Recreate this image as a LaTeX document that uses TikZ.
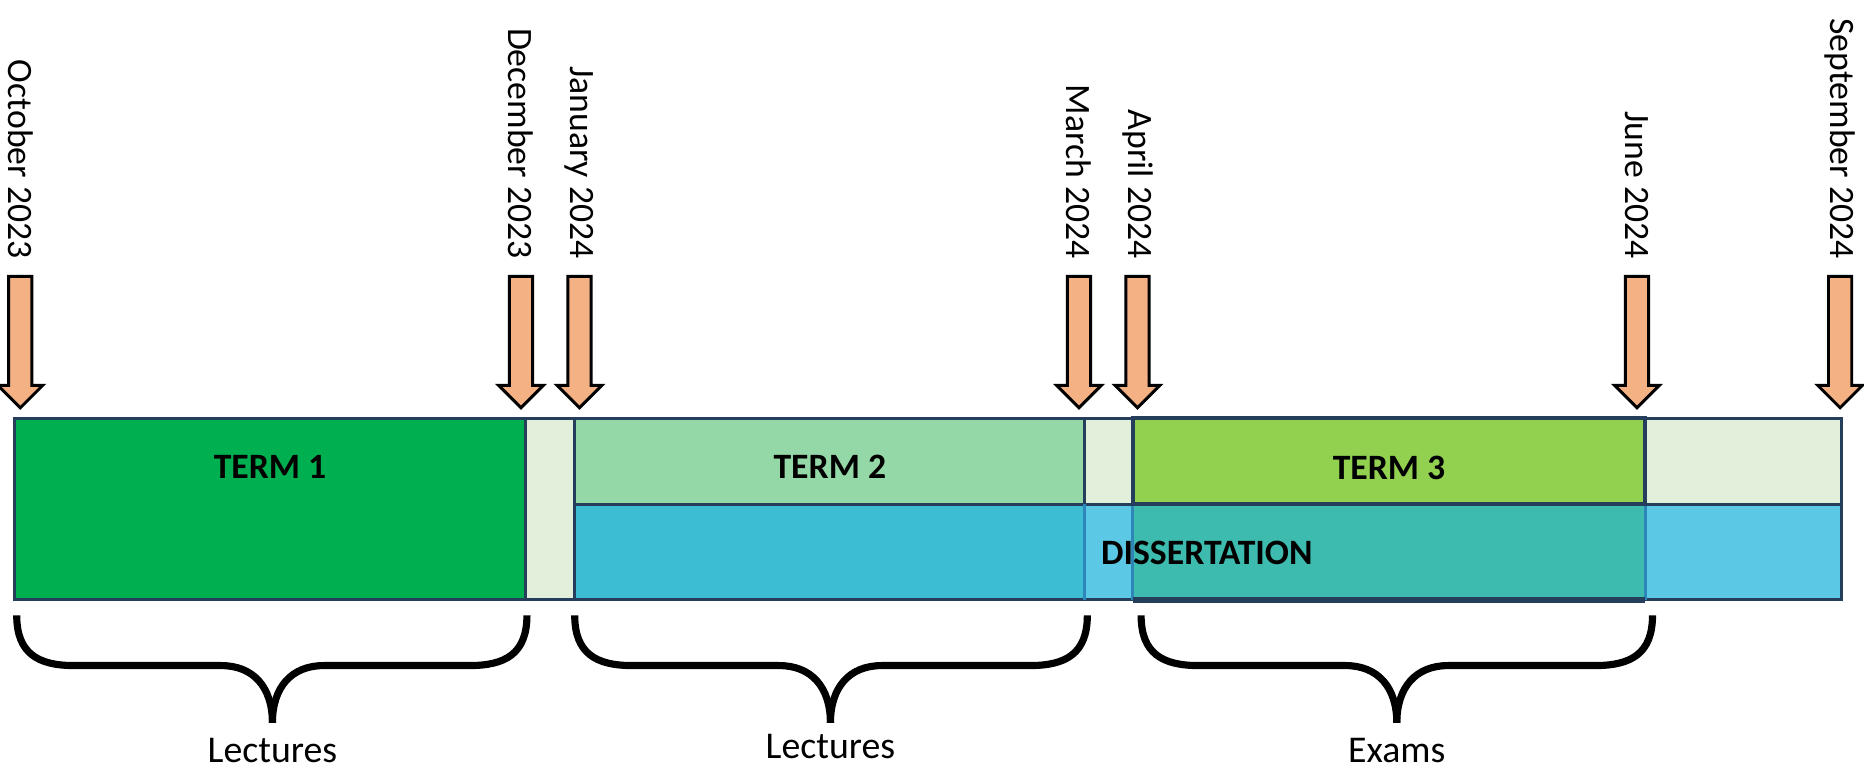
\documentclass[tikz,border=0pt]{standalone}
\usepackage{fontspec}
\setmainfont{Carlito}
\usetikzlibrary{shapes.arrows,positioning}

\definecolor{termone}{HTML}{00B050}
\definecolor{termtwo}{HTML}{94D8A8}
\definecolor{termthree}{HTML}{92D050}
\definecolor{breakgray}{HTML}{E2EFDA}
\definecolor{dissblue}{HTML}{5BC8E5}
\definecolor{disstwo}{HTML}{3DBDD3}
\definecolor{dissthree}{HTML}{3DBBAE}
\definecolor{barnavy}{HTML}{253E5C}
\definecolor{dissedge}{HTML}{2E86B8}
\definecolor{arroworange}{HTML}{F4B183}

\tikzset{
	barline/.style={draw=barnavy, line width=0.7pt},
	datearrow/.style={single arrow, draw=black, fill=arroworange, line width=0.7pt, rotate=-90,
		anchor=tip, inner xsep=0pt, inner ysep=0.85mm, minimum height=11mm, single arrow head extend=0.9mm},
	datetext/.style={rotate=-90, anchor=east, inner sep=0pt, font=\fontsize{8.5}{10}\selectfont},
	termtext/.style={font=\fontsize{8.5}{10}\selectfont\bfseries},
	bracket/.style={black, line width=1.7pt},
	undertext/.style={inner sep=0pt, font=\fontsize{9}{11}\selectfont}
}

\begin{document}
\begin{tikzpicture}[x=0.1mm,y=-0.1mm]
	%Bounding box of the whole figure
	\useasboundingbox (0,0) rectangle (1560,642);

	%Heights of the bar: top, middle line and bottom
	\pgfmathsetmacro{\ytop}{350}
	\pgfmathsetmacro{\ymid}{422}
	\pgfmathsetmacro{\ybot}{502}
	%Borders of the blocks along the bar
	\pgfmathsetmacro{\xa}{12}   %October
	\pgfmathsetmacro{\xb}{440}  %December
	\pgfmathsetmacro{\xc}{481}  %January
	\pgfmathsetmacro{\xd}{908}  %March
	\pgfmathsetmacro{\xe}{948}  %April
	\pgfmathsetmacro{\xf}{1377} %June
	\pgfmathsetmacro{\xg}{1541} %September
	%Braces: top of the ends, middle bar and tip
	\pgfmathsetmacro{\bt}{515}
	\pgfmathsetmacro{\bh}{557}
	\pgfmathsetmacro{\bp}{605}

	%Upper row of the bar (terms and breaks)
	\draw[barline,fill=termone] (\xa,\ytop) rectangle (\xb,\ybot);
	\draw[barline,fill=breakgray] (\xb,\ytop) rectangle (\xc,\ybot);
	\draw[barline,fill=termtwo] (\xc,\ytop) rectangle (\xd,\ymid);
	\draw[barline,fill=breakgray] (\xd,\ytop) rectangle (\xe,\ymid);
	\draw[barline,fill=termthree] (\xe,\ytop) rectangle (\xf,\ymid);
	\draw[barline,fill=breakgray] (\xf,\ytop) rectangle (\xg,\ymid);

	%Lower row of the bar (dissertation)
	\draw[barline,fill=dissblue] (\xc,\ymid) rectangle (\xg,\ybot);
	\draw[barline,fill=disstwo] (\xc,\ymid) rectangle (\xd,\ybot);
	\fill[dissthree] (\xe,\ymid) rectangle (\xf,\ybot);
	\draw[dissedge,line width=0.7pt] (\xd,\ymid) -- (\xd,\ybot);
	\draw[dissedge,line width=0.7pt] (\xe,\ymid) -- (\xe,\ybot);
	\draw[dissedge,line width=0.7pt] (\xf,\ymid) -- (\xf,\ybot);
	%Frame of term 3
	\draw[barnavy,line width=1pt] (\xe,\ytop) -- (\xf,\ytop) -- (\xf,\ymid) -- (\xe,\ymid) -- cycle;
	\draw[barnavy,line width=1.3pt] (\xe,\ybot) -- (\xf,\ybot);

	%Names of the blocks
	\node[termtext] (term1) at ({(\xa+\xb)/2},391) {TERM 1};
	\node[termtext] (term2) at ({(\xc+\xd)/2},391) {TERM 2};
	\node[termtext] (term3) at ({(\xe+\xf)/2},392) {TERM 3};
	\node[termtext] (diss) at (1010,463) {DISSERTATION};

	%Arrows of the dates and their labels
	\node[datearrow] (oct) at (17,343) {};
	\path (oct.tail)+(0,-13) node[datetext] (octlbl) {October 2023};
	\node[datearrow] (dec) at (436,343) {};
	\path (dec.tail)+(0,-13) node[datetext] (declbl) {December 2023};
	\node[datearrow] (jan) at (485,343) {};
	\path (jan.tail)+(0,-13) node[datetext] (janlbl) {January 2024};
	\node[datearrow] (mar) at (903,343) {};
	\path (mar.tail)+(0,-13) node[datetext] (marlbl) {March 2024};
	\node[datearrow] (apr) at (952,343) {};
	\path (apr.tail)+(0,-13) node[datetext] (aprlbl) {April 2024};
	\node[datearrow] (jun) at (1370,343) {};
	\path (jun.tail)+(0,-13) node[datetext] (junlbl) {June 2024};
	\node[datearrow] (sep) at (1540,343) {};
	\path (sep.tail)+(0,-13) node[datetext] (seplbl) {September 2024};

	%Brace under term 1
	\draw[bracket] (14,\bt) .. controls (14,\bt+32) and (32,\bh) .. (62,\bh) -- (185,\bh)
		.. controls (212,\bh) and (228,\bh+18) .. (228,\bp);
	\draw[bracket] (441,\bt) .. controls (441,\bt+32) and (423,\bh) .. (393,\bh) -- (271,\bh)
		.. controls (244,\bh) and (228,\bh+18) .. (228,\bp);
	\coordinate (tip1) at (228,\bp);
	\node[undertext, below=1.2mm of tip1] (lect1) {Lectures};

	%Brace under term 2
	\draw[bracket] (481,\bt) .. controls (481,\bt+32) and (499,\bh) .. (529,\bh) -- (652,\bh)
		.. controls (679,\bh) and (695,\bh+18) .. (695,\bp);
	\draw[bracket] (910,\bt) .. controls (910,\bt+32) and (892,\bh) .. (862,\bh) -- (738,\bh)
		.. controls (711,\bh) and (695,\bh+18) .. (695,\bp);
	\coordinate (tip2) at (695,\bp);
	\node[undertext, below=0.9mm of tip2] (lect2) {Lectures};

	%Brace under term 3
	\draw[bracket] (955,\bt) .. controls (955,\bt+32) and (973,\bh) .. (1003,\bh) -- (1126,\bh)
		.. controls (1153,\bh) and (1169,\bh+18) .. (1169,\bp);
	\draw[bracket] (1383,\bt) .. controls (1383,\bt+32) and (1365,\bh) .. (1335,\bh) -- (1212,\bh)
		.. controls (1185,\bh) and (1169,\bh+18) .. (1169,\bp);
	\coordinate (tip3) at (1169,\bp);
	\node[undertext, below=1.2mm of tip3] (exams) {Exams};

\end{tikzpicture}
\end{document}
